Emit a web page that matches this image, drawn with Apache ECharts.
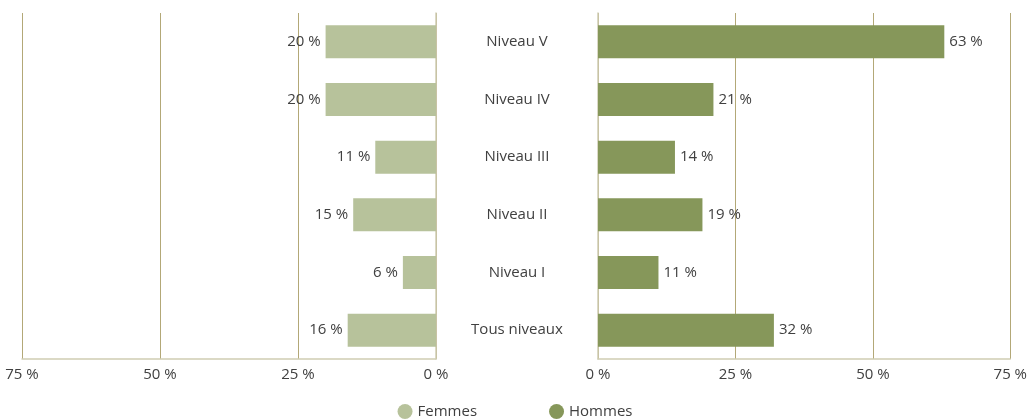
<!DOCTYPE html>
<html>
<head>
<meta charset="utf-8">
<script src="https://cdn.jsdelivr.net/npm/echarts@6/dist/echarts.min.js"></script>
<style>
  html, body { margin: 0; padding: 0; background: #fff; }
  #chart { width: 1030px; height: 419px; }
</style>
</head>
<body>
<div id="chart"></div>
<script>
var categories = ['Niveau V', 'Niveau IV', 'Niveau III', 'Niveau II', 'Niveau I', 'Tous niveaux'];
var femmes = [20, 20, 11, 15, 6, 16];
var hommes = [63, 21, 14, 19, 11, 32];

var myChart = echarts.init(document.getElementById('chart'));

var font = 'Open Sans';
var gridLine = '#b3a877';
var axisLine = '#cfcdb3';
var textColor = '#404040';

function valueAxis(gridIndex, inverse) {
    return {
        type: 'value',
        gridIndex: gridIndex,
        inverse: inverse,
        min: 0,
        max: 75,
        interval: 25,
        axisLine: { show: true, lineStyle: { color: axisLine, width: 1.5 } },
        axisTick: { show: false },
        splitLine: { show: true, lineStyle: { color: gridLine, width: 1 } },
        axisLabel: {
            formatter: '{value} %',
            color: textColor,
            fontFamily: font,
            fontSize: 15,
            margin: 8
        }
    };
}

var option = {
    animation: false,
    legend: {
        bottom: 0,
        left: 'center',
        padding: 0,
        icon: 'circle',
        itemWidth: 15,
        itemHeight: 15,
        itemGap: 72,
        textStyle: { color: textColor, fontFamily: font, fontSize: 15 },
        data: ['Femmes', 'Hommes']
    },
    grid: [
        { left: 22, right: 594, top: 13, bottom: 60 },
        { left: 598, right: 18, top: 13, bottom: 60 }
    ],
    xAxis: [valueAxis(0, true), valueAxis(1, false)],
    yAxis: [
        {
            type: 'category',
            gridIndex: 0,
            position: 'right',
            inverse: true,
            data: categories,
            axisLine: { show: true, lineStyle: { color: axisLine, width: 1.5 } },
            axisTick: { show: false },
            axisLabel: { show: false }
        },
        {
            type: 'category',
            gridIndex: 1,
            position: 'left',
            inverse: true,
            data: categories,
            axisLine: { show: true, lineStyle: { color: axisLine, width: 1.5 } },
            axisTick: { show: false },
            axisLabel: {
                align: 'center',
                margin: 81,
                color: textColor,
                fontFamily: font,
                fontSize: 15
            }
        }
    ],
    series: [
        {
            name: 'Femmes',
            type: 'bar',
            xAxisIndex: 0,
            yAxisIndex: 0,
            barWidth: 33,
            itemStyle: { color: '#b7c29b' },
            label: {
                show: true,
                position: 'left',
                formatter: '{c} %',
                color: textColor,
                fontFamily: font,
                fontSize: 15,
                distance: 5
            },
            data: femmes
        },
        {
            name: 'Hommes',
            type: 'bar',
            xAxisIndex: 1,
            yAxisIndex: 1,
            barWidth: 33,
            itemStyle: { color: '#86975a' },
            label: {
                show: true,
                position: 'right',
                formatter: '{c} %',
                color: textColor,
                fontFamily: font,
                fontSize: 15,
                distance: 5
            },
            data: hommes
        }
    ]
};

myChart.setOption(option);
</script>
</body>
</html>
